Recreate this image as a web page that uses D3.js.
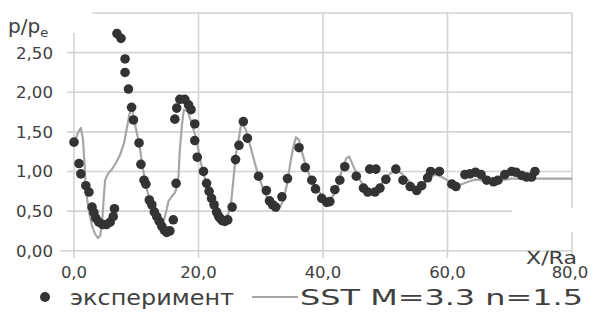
<!DOCTYPE html>
<html><head><meta charset="utf-8">
<script src="https://cdn.jsdelivr.net/npm/d3@7"></script>
<style>html,body{margin:0;padding:0;background:#fff;}svg{display:block;}</style>
</head><body>
<svg id="c" width="593" height="324"></svg>
<script>
// experiment points: X/Ra
const expX = [0.0,0.8,1.1,1.9,2.4,2.9,3.2,3.5,4.0,4.6,5.2,5.8,6.3,6.5,6.9,7.55,8.2,8.2,8.75,9.25,9.55,10.45,10.75,11.25,11.55,12.1,12.5,12.9,13.3,13.7,14.1,14.5,14.9,15.4,15.95,16.4,16.2,16.5,17.0,17.8,18.4,18.8,19.4,19.4,19.8,20.8,21.3,21.7,22.1,22.5,22.9,23.2,23.45,23.8,24.25,24.7,25.4,25.95,26.5,27.2,27.85,29.65,30.9,31.4,31.9,32.4,33.4,34.3,36.15,37.15,38.2,38.8,39.8,40.6,41.1,41.9,42.7,43.5,45.35,46.5,47.2,47.5,48.35,48.5,49.15,50.1,51.7,52.85,54.0,55.05,55.85,56.8,57.3,58.7,60.7,61.35,62.8,63.6,64.5,65.4,66.3,67.4,68.1,69.2,70.3,71.0,71.9,72.7,73.5,74.05];
// experiment points: p/pe
const expP = [1.37,1.10,0.97,0.82,0.74,0.55,0.48,0.41,0.36,0.33,0.33,0.36,0.43,0.53,2.74,2.68,2.42,2.25,2.04,1.81,1.65,1.36,1.09,0.89,0.84,0.64,0.58,0.49,0.43,0.37,0.31,0.26,0.23,0.25,0.39,0.85,1.66,1.80,1.91,1.91,1.84,1.78,1.60,1.39,1.18,1.00,0.85,0.75,0.66,0.58,0.49,0.44,0.41,0.38,0.37,0.39,0.55,1.15,1.33,1.63,1.42,0.94,0.76,0.63,0.58,0.55,0.68,0.91,1.30,1.05,0.89,0.78,0.66,0.61,0.62,0.77,0.89,1.06,0.94,0.79,0.74,1.03,0.74,1.03,0.79,0.90,1.03,0.89,0.81,0.76,0.82,0.92,1.00,1.00,0.84,0.81,0.96,0.97,0.99,0.96,0.89,0.87,0.89,0.96,1.00,0.99,0.95,0.93,0.93,1.00];
// SST model line: X/Ra
const sstX = [0,0.65,1.1,1.45,1.7,1.9,2.4,2.9,3.4,3.85,4.2,4.5,4.75,5.0,5.45,6.1,6.75,7.4,8.05,8.5,8.9,9.25,9.65,10.45,11.1,11.7,12.5,13.3,14.0,14.4,14.8,15.2,15.75,16.2,16.55,16.8,17.0,17.35,17.65,18.3,18.95,19.7,20.25,20.9,21.5,22.15,22.8,23.45,24.1,24.75,25.2,25.6,26.0,26.5,26.9,27.6,28.25,28.9,29.55,30.35,31.2,31.8,32.45,33.1,33.65,34.2,34.7,35.2,35.65,36.15,36.6,37.25,38.05,38.9,39.7,40.5,41.1,41.75,42.4,43.05,43.7,44.2,44.8,45.45,46.1,46.9,47.7,48.7,49.65,50.75,51.7,52.7,53.65,54.6,55.4,56.2,57.2,58.15,59.1,59.9,60.7,62.0,63.3,64.6,66.0,67.3,68.75,70.35,72.45,74.85,77.4,80.0];
// SST model line: p/pe
const sstP = [1.35,1.49,1.55,1.40,1.08,0.77,0.49,0.31,0.21,0.16,0.19,0.33,0.64,0.89,0.97,1.03,1.11,1.21,1.36,1.55,1.72,1.82,1.65,1.36,1.02,0.77,0.58,0.44,0.38,0.37,0.49,0.63,0.69,0.73,0.81,0.96,1.27,1.59,1.78,1.76,1.59,1.40,1.15,0.95,0.77,0.60,0.48,0.42,0.40,0.46,0.58,0.89,1.21,1.43,1.62,1.53,1.34,1.15,0.96,0.79,0.64,0.57,0.52,0.55,0.64,0.83,1.08,1.30,1.43,1.40,1.25,1.07,0.91,0.79,0.71,0.65,0.64,0.71,0.83,1.02,1.16,1.19,1.08,0.97,0.87,0.78,0.74,0.78,0.87,0.97,1.02,0.97,0.89,0.82,0.79,0.84,0.93,0.96,0.93,0.89,0.86,0.83,0.87,0.90,0.88,0.88,0.89,0.91,0.91,0.91,0.91,0.91];
const xTicks = [0,20,40,60,80];
const xTickLabels = ["0,0","20,0","40,0","60,0","80,0"];
const yTicks = [0,0.5,1,1.5,2,2.5,3];
const yTickLabels = ["0,00","0,50","1,00","1,50","2,00","2,50",""];
const legendLabels = ["эксперимент","SST M=3.3 n=1.5"];

const svg = d3.select("#c");
const x = d3.scaleLinear().domain([0,80]).range([74,572]);
const y = d3.scaleLinear().domain([0,3]).range([250.7,13]);
const gridC = "#d3d3d3", txtC = "#404040";
const font = "DejaVu Sans, Verdana, sans-serif";

// horizontal gridlines
svg.append("g").selectAll("line").data(yTicks.filter(d=>d>0)).join("line")
  .attr("x1",67).attr("x2",x(80)).attr("y1",d=>y(d)).attr("y2",d=>y(d))
  .attr("stroke",gridC).attr("stroke-width",1.6);
// vertical gridlines
svg.append("g").selectAll("line").data(xTicks).join("line")
  .attr("x1",d=>x(d)).attr("x2",d=>x(d)).attr("y1",y(3)).attr("y2",258)
  .attr("stroke",gridC).attr("stroke-width",1.6);
// x axis line
svg.append("line").attr("x1",60).attr("x2",x(80)).attr("y1",y(0)).attr("y2",y(0))
  .attr("stroke",gridC).attr("stroke-width",1.6);

// white label boxes
svg.append("rect").attr("x",0).attr("y",0).attr("width",92).attr("height",33).attr("fill","#fff");
svg.append("rect").attr("x",512).attr("y",208).attr("width",81).attr("height",24).attr("fill","#fff");

// SST line
const line = d3.line().x(d=>x(d[0])).y(d=>y(d[1]));
svg.append("path").datum(d3.zip(sstX,sstP)).attr("d",line)
  .attr("fill","none").attr("stroke","#a6a6a6").attr("stroke-width",2.2).attr("stroke-linejoin","round");

// experiment dots
svg.append("g").selectAll("circle").data(d3.zip(expX,expP)).join("circle")
  .attr("cx",d=>x(d[0])).attr("cy",d=>y(d[1])).attr("r",4.8).attr("fill","#333333");

// y tick labels
svg.append("g").selectAll("text").data(yTicks.map((d,i)=>[d,yTickLabels[i]]).filter(d=>d[1])).join("text")
  .attr("x",53).attr("y",d=>y(d[0])+6).attr("text-anchor","end")
  .attr("font-family",font).attr("font-size",16.5).attr("fill",txtC)
  .attr("textLength",37).attr("lengthAdjust","spacingAndGlyphs").text(d=>d[1]);
// x tick labels
svg.append("g").selectAll("text").data(xTicks.map((d,i)=>[d,xTickLabels[i]])).join("text")
  .attr("x",d=>x(d[0])+(d[0]===80?-2:0)).attr("y",278).attr("text-anchor","middle")
  .attr("font-family",font).attr("font-size",16.5).attr("fill",txtC).text(d=>d[1]);

// axis titles
const pt = svg.append("text").attr("x",8).attr("y",33).attr("font-family",font).attr("font-size",20).attr("fill",txtC);
pt.append("tspan").text("p/p");
pt.append("tspan").attr("font-size",13).attr("dy",4).text("e");
svg.append("text").attr("x",526).attr("y",264).attr("font-family",font).attr("font-size",17).attr("fill",txtC)
  .attr("textLength",51).attr("lengthAdjust","spacingAndGlyphs").text("X/Ra");

// legend
svg.append("circle").attr("cx",45).attr("cy",297).attr("r",5).attr("fill","#333333");
svg.append("text").attr("x",70).attr("y",305).attr("font-family",font).attr("font-size",22).attr("fill",txtC)
  .attr("textLength",164).attr("lengthAdjust","spacingAndGlyphs").text(legendLabels[0]);
svg.append("line").attr("x1",252).attr("x2",298).attr("y1",297).attr("y2",297).attr("stroke","#a6a6a6").attr("stroke-width",2.2);
svg.append("text").attr("x",300).attr("y",305).attr("font-family",font).attr("font-size",22).attr("fill",txtC)
  .attr("textLength",283).attr("lengthAdjust","spacingAndGlyphs").text(legendLabels[1]);
</script>
</body></html>
